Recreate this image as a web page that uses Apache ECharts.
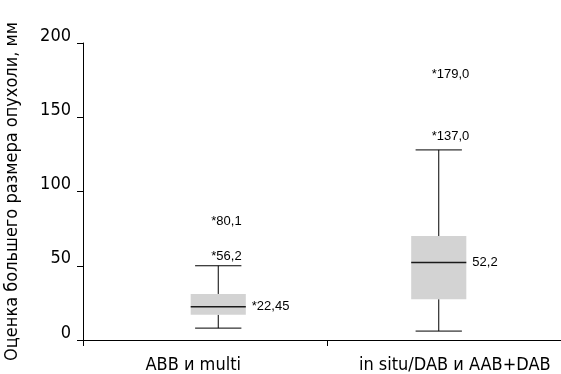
<!DOCTYPE html>
<html>
<head>
<meta charset="utf-8">
<script src="https://cdn.jsdelivr.net/npm/echarts@6/dist/echarts.min.js"></script>
<style>
  html, body { margin: 0; padding: 0; background: #fff; }
  #main { width: 561px; height: 374px; }
</style>
</head>
<body>
<div id="main"></div>
<script>
// данные
var categories = ['ABB и multi', 'in situ/DAB и AAB+DAB'];
var whiskerLow = [8, 6];
var q1 = [17, 27.5];
var median = [22.45, 52.2];
var q3 = [31, 70];
var whiskerHigh = [50, 128];
var medianLabels = ['*22,45', '52,2'];
var outlierCat = [0, 0, 1, 1];
var outlierVal = [56.2, 80.1, 137.0, 179.0];
var outlierLabels = ['*56,2', '*80,1', '*137,0', '*179,0'];

var narrow = "'Liberation Sans Narrow', 'DejaVu Sans Condensed', sans-serif";
var plain = "'Liberation Sans', Arial, sans-serif";

var myChart = echarts.init(document.getElementById('main'));

var boxData = categories.map(function (c, i) {
    return [i, whiskerLow[i], q1[i], median[i], q3[i], whiskerHigh[i]];
});
var labelData = [];
categories.forEach(function (c, i) {
    labelData.push([i, median[i], medianLabels[i], 'median']);
});
outlierVal.forEach(function (v, i) {
    labelData.push([outlierCat[i], v, outlierLabels[i], 'out']);
});

//категории со сдвигом подписей
var catItems = categories.map(function (c, i) {
    return {
        value: c,
        textStyle: { padding: i == 0 ? [0, 50, 0, 0] : [0, 0, 0, 32] }
    };
});

myChart.setOption({
    animation: false,
    backgroundColor: '#fff',
    grid: [
        { left: 83, right: 0, top: 43, bottom: 34, outerBoundsMode: 'none', containLabel: false },
        { left: 108, right: 12, top: 43, bottom: 34, outerBoundsMode: 'none', containLabel: false }
    ],
    xAxis: [
        {
            gridIndex: 0, type: 'value', min: 0, max: 478, interval: 244,
            axisLine: { show: true, lineStyle: { color: '#000', width: 1 } },
            axisTick: { show: true, length: 6, lineStyle: { color: '#000' } },
            axisLabel: { show: false },
            splitLine: { show: false }
        },
        {
            gridIndex: 1, type: 'category', data: catItems,
            axisLine: { show: false },
            axisTick: { show: false },
            axisLabel: { color: '#000', fontFamily: narrow, fontSize: 18, margin: 16, interval: 0, hideOverlap: false }
        }
    ],
    yAxis: [
        {
            gridIndex: 0, type: 'value', min: 0, max: 200, interval: 50,
            name: 'Оценка большего размера опухоли, мм',
            nameLocation: 'middle', nameGap: 62,
            nameTextStyle: { color: '#000', fontFamily: narrow, fontSize: 18 },
            axisLine: { show: true, lineStyle: { color: '#000', width: 1 } },
            axisTick: { show: true, length: 6, lineStyle: { color: '#000' } },
            axisLabel: { color: '#000', fontFamily: narrow, fontSize: 18, margin: 12, verticalAlign: 'bottom', padding: [0, 0, -2, 0] },
            splitLine: { show: false }
        },
        {
            gridIndex: 1, type: 'value', min: 0, max: 200, interval: 50, show: false
        }
    ],
    series: [
        {
            type: 'custom',
            xAxisIndex: 1, yAxisIndex: 1,
            data: boxData,
            renderItem: function (params, api) {
                var x = api.value(0);
                var pLow = api.coord([x, api.value(1)]);
                var pQ1 = api.coord([x, api.value(2)]);
                var pMed = api.coord([x, api.value(3)]);
                var pQ3 = api.coord([x, api.value(4)]);
                var pHigh = api.coord([x, api.value(5)]);
                var band = api.size([1, 0])[0];
                var bw = band * 0.25;
                var cw = band * 0.105;
                var cx = pMed[0];
                var line = { stroke: '#000', lineWidth: 1 };
                return {
                    type: 'group',
                    children: [
                        { type: 'line', shape: { x1: cx, y1: pQ3[1], x2: cx, y2: pHigh[1] }, style: line },
                        { type: 'line', shape: { x1: cx, y1: pQ1[1], x2: cx, y2: pLow[1] }, style: line },
                        { type: 'line', shape: { x1: cx - cw, y1: pHigh[1], x2: cx + cw, y2: pHigh[1] }, style: line },
                        { type: 'line', shape: { x1: cx - cw, y1: pLow[1], x2: cx + cw, y2: pLow[1] }, style: line },
                        { type: 'rect', shape: { x: cx - bw / 2, y: pQ3[1], width: bw, height: pQ1[1] - pQ3[1] }, style: { fill: '#d3d3d3', stroke: null } },
                        { type: 'line', shape: { x1: cx - bw / 2, y1: pMed[1], x2: cx + bw / 2, y2: pMed[1] }, style: { stroke: '#1a1a1a', lineWidth: 1.5 } }
                    ]
                };
            }
        },
        {
            type: 'custom',
            xAxisIndex: 1, yAxisIndex: 1,
            data: labelData,
            renderItem: function (params, api) {
                var d = labelData[params.dataIndex];
                var p = api.coord([d[0], d[1]]);
                var band = api.size([1, 0])[0];
                var tx = d[3] == 'median' ? p[0] + band * 0.125 + 6 : p[0] - 7;
                return {
                    type: 'text',
                    style: {
                        x: tx, y: p[1], text: d[2],
                        fill: '#000', font: '13px ' + plain,
                        align: 'left', verticalAlign: 'middle'
                    }
                };
            }
        }
    ]
});
</script>
</body>
</html>
